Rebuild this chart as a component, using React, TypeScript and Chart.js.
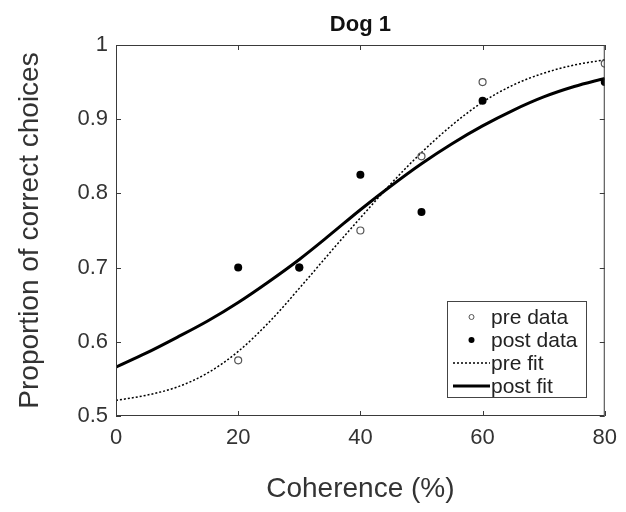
import React, { useEffect, useRef } from "react";
import { Chart, registerables } from "chart.js";

Chart.register(...registerables);

const titleText = "Dog 1";
const xTitle = "Coherence (%)";
const yTitle = "Proportion of correct choices";

const dataX = [20, 30, 40, 50, 60, 80];
const preData = [0.575, 0.70, 0.75, 0.85, 0.95, 0.975];
const postData = [0.70, 0.70, 0.825, 0.775, 0.925, 0.95];

const fitX = [0, 5, 10, 15, 20, 25, 30, 35, 40, 45, 50, 55, 60, 65, 70, 75, 80];
const preFit = [0.521, 0.528, 0.539, 0.558, 0.587, 0.626, 0.672, 0.720, 0.767, 0.813, 0.855, 0.892, 0.923, 0.946, 0.962, 0.973, 0.980];
const postFit = [0.566, 0.585, 0.606, 0.628, 0.653, 0.681, 0.711, 0.744, 0.778, 0.810, 0.840, 0.867, 0.891, 0.912, 0.930, 0.944, 0.955];

const legendLabels = ["pre data", "post data", "pre fit", "post fit"];

const xTicks = [0, 20, 40, 60, 80];
const yTicks = [0.5, 0.6, 0.7, 0.8, 0.9, 1.0];

const FONT = "'Liberation Sans', Arial, Helvetica, sans-serif";
const AXIS_COLOR = "#3a3a3a";

const boxPlugin = {
  id: "boxTicks",
  afterDatasetsDraw(chart: any) {
    const { ctx, chartArea: a, scales } = chart;
    ctx.save();
    ctx.strokeStyle = AXIS_COLOR;
    ctx.lineWidth = 1;
    ctx.strokeRect(a.left + 0.5, a.top + 0.5, a.right - a.left - 1, a.bottom - a.top - 1);
    const tl = 5;
    ctx.beginPath();
    xTicks.forEach((v) => {
      const px = Math.round(scales.x.getPixelForValue(v)) + 0.5;
      ctx.moveTo(px, a.bottom);
      ctx.lineTo(px, a.bottom - tl);
      ctx.moveTo(px, a.top);
      ctx.lineTo(px, a.top + tl);
    });
    yTicks.forEach((v) => {
      const py = Math.round(scales.y.getPixelForValue(v)) + 0.5;
      ctx.moveTo(a.left, py);
      ctx.lineTo(a.left + tl, py);
      ctx.moveTo(a.right, py);
      ctx.lineTo(a.right - tl, py);
    });
    ctx.stroke();

    // legend box
    const lx = 447, ly = 301, lw = 139, lh = 96;
    ctx.fillStyle = "#ffffff";
    ctx.fillRect(lx, ly, lw, lh);
    ctx.strokeStyle = "#444";
    ctx.strokeRect(lx + 0.5, ly + 0.5, lw, lh);
    const rowY = [317, 340, 363, 386];
    ctx.font = `21px ${FONT}`;
    ctx.textBaseline = "middle";
    ctx.textAlign = "left";
    ctx.fillStyle = "#222";
    legendLabels.forEach((t, i) => {
      ctx.fillText(t, 491, rowY[i] + 1);
    });
    // markers
    ctx.beginPath();
    ctx.strokeStyle = "#555";
    ctx.lineWidth = 1;
    ctx.arc(471.5, rowY[0], 2.5, 0, Math.PI * 2);
    ctx.stroke();
    ctx.beginPath();
    ctx.fillStyle = "#000";
    ctx.arc(471.5, rowY[1], 3, 0, Math.PI * 2);
    ctx.fill();
    ctx.beginPath();
    ctx.setLineDash([2, 2]);
    ctx.strokeStyle = "#000";
    ctx.lineWidth = 1.5;
    ctx.moveTo(453, rowY[2]);
    ctx.lineTo(490, rowY[2]);
    ctx.stroke();
    ctx.setLineDash([]);
    ctx.beginPath();
    ctx.lineWidth = 3;
    ctx.moveTo(453, rowY[3]);
    ctx.lineTo(490, rowY[3]);
    ctx.stroke();
    ctx.restore();
  },
};

export default function App() {
  const ref = useRef<HTMLCanvasElement | null>(null);
  useEffect(() => {
    if (!ref.current) return;
    const chart = new Chart(ref.current, {
      type: "scatter",
      data: {
        datasets: [
          {
            label: "pre fit",
            data: fitX.map((x, i) => ({ x, y: preFit[i] })),
            showLine: true,
            borderColor: "#000",
            borderWidth: 1.5,
            borderDash: [2, 2],
            pointRadius: 0,
            cubicInterpolationMode: "monotone",
            order: 2,
          },
          {
            label: "post fit",
            data: fitX.map((x, i) => ({ x, y: postFit[i] })),
            showLine: true,
            borderColor: "#000",
            borderWidth: 3,
            pointRadius: 0,
            cubicInterpolationMode: "monotone",
            order: 1,
          },
          {
            label: "pre data",
            data: dataX.map((x, i) => ({ x, y: preData[i] })),
            showLine: false,
            pointStyle: "circle",
            pointRadius: 3.5,
            borderColor: "#555",
            borderWidth: 1.2,
            backgroundColor: "rgba(255,255,255,0)",
            order: 0,
          },
          {
            label: "post data",
            data: dataX.map((x, i) => ({ x, y: postData[i] })),
            showLine: false,
            pointStyle: "circle",
            pointRadius: 4,
            borderColor: "#000",
            borderWidth: 0,
            backgroundColor: "#000",
            order: -1,
          },
        ],
      },
      options: {
        animation: false,
        responsive: false,
        maintainAspectRatio: false,
        layout: { padding: { top: 0, right: 17, left: 0, bottom: 0 } },
        plugins: {
          legend: { display: false },
          tooltip: { enabled: false },
          title: {
            display: true,
            fullSize: false,
            text: titleText,
            color: "#111",
            font: { family: FONT, size: 22, weight: "bold" },
            padding: { top: 11.8, bottom: 6.8 },
          },
        },
        scales: {
          x: {
            type: "linear",
            min: 0,
            max: 80,
            afterBuildTicks: (s: any) => {
              s.ticks = xTicks.map((v) => ({ value: v }));
            },
            afterFit: (s: any) => {
              s.height = 96;
            },
            ticks: {
              color: "#333",
              font: { family: FONT, size: 22 },
              padding: 9,
              maxRotation: 0,
              callback: (v: any) => String(v),
            },
            grid: { display: false, drawTicks: false },
            border: { display: false },
            title: {
              display: true,
              text: xTitle,
              color: "#333",
              font: { family: FONT, size: 28 },
              padding: { top: 0, bottom: 6 },
            },
          },
          y: {
            type: "linear",
            min: 0.5,
            max: 1,
            afterBuildTicks: (s: any) => {
              s.ticks = yTicks.map((v) => ({ value: v }));
            },
            afterFit: (s: any) => {
              s.width = 116;
            },
            ticks: {
              color: "#333",
              font: { family: FONT, size: 22 },
              padding: 8,
              callback: (v: any) => (Math.abs(v - 1) < 1e-9 ? "1" : Number(v).toFixed(1)),
            },
            grid: { display: false, drawTicks: false },
            border: { display: false },
            title: {
              display: true,
              text: yTitle,
              color: "#333",
              font: { family: FONT, size: 28 },
              padding: { top: 13, bottom: 0 },
            },
          },
        },
      },
      plugins: [boxPlugin],
    } as any);
    return () => chart.destroy();
  }, []);
  return (
    <div style={{ position: "fixed", left: 0, top: 0, width: 626, height: 512, background: "#fff" }}>
      <canvas ref={ref} width={626} height={512} style={{ display: "block" }} />
    </div>
  );
}
